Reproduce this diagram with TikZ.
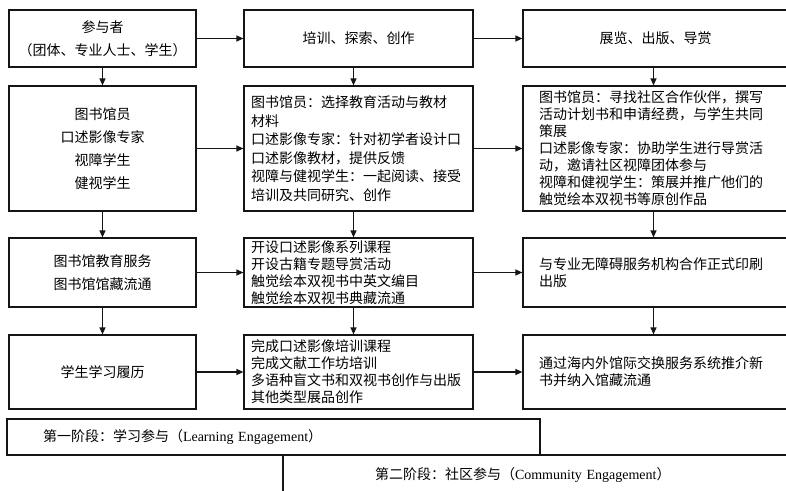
\documentclass[tikz,border=0pt]{standalone}
\usepackage{fontspec}
\setmainfont{Liberation Serif}
\newfontfamily\cjk{Noto Sans CJK SC}
\usetikzlibrary{arrows.meta}
\definecolor{ln}{HTML}{151515}

\begin{document}
\begin{tikzpicture}[x=1pt,y=-1pt,
  box/.style={draw=ln,line width=1.2pt,inner sep=0pt,font=\cjk\fontsize{14}{17}\selectfont},
  lbox/.style={box,minimum width=187pt,align=center,font=\cjk\fontsize{14}{23}\selectfont},
  mbox/.style={box,minimum width=229pt,text width=215pt,inner xsep=7pt,align=left},
  rbox/.style={box,minimum width=265pt,text width=233pt,inner xsep=16pt,align=left},
  arr/.style={draw=ln,line width=1.2pt,-{Triangle[length=7pt,width=6pt]}}]
\useasboundingbox (0,0) rectangle (786,490);

\node[lbox,minimum height=57pt] (l1) at (102.5,38.5) {参与者\\（团体、专业人士、学生）};
\node[lbox,minimum height=125pt] (l2) at (102.5,148.5) {图书馆员\\口述影像专家\\视障学生\\健视学生};
\node[lbox,minimum height=69pt] (l3) at (102.5,272.5) {图书馆教育服务\\图书馆馆藏流通};
\node[lbox,minimum height=74pt] (l4) at (102.5,372) {学生学习履历};

\node[mbox,minimum height=57pt,align=center] (m1) at (358.5,38.5) {培训、探索、创作};
\node[mbox,minimum height=125pt,font=\cjk\fontsize{14}{18.5}\selectfont] (m2) at (358.5,148.5)
  {图书馆员：选择教育活动与教材\\材料\\口述影像专家：针对初学者设计口\\口述影像教材，提供反馈\\视障与健视学生：一起阅读、接受\\培训及共同研究、创作};
\node[mbox,minimum height=69pt] (m3) at (358.5,272.5)
  {开设口述影像系列课程\\开设古籍专题导赏活动\\触觉绘本双视书中英文编目\\触觉绘本双视书典藏流通};
\node[mbox,minimum height=74pt] (m4) at (358.5,372)
  {完成口述影像培训课程\\完成文献工作坊培训\\多语种盲文书和双视书创作与出版\\其他类型展品创作};

\node[rbox,minimum height=57pt,align=center] (r1) at (655.5,38.5) {展览、出版、导赏};
\node[rbox,minimum height=125pt] (r2) at (655.5,148.5)
  {图书馆员：寻找社区合作伙伴，撰写\\活动计划书和申请经费，与学生共同\\策展\\口述影像专家：协助学生进行导赏活\\动，邀请社区视障团体参与\\视障和健视学生：策展并推广他们的\\触觉绘本双视书等原创作品};
\node[rbox,minimum height=69pt] (r3) at (655.5,272.5) {与专业无障碍服务机构合作正式印刷\\出版};
\node[rbox,minimum height=74pt] (r4) at (655.5,372) {通过海内外馆际交换服务系统推介新\\书并纳入馆藏流通};

\node[box,minimum width=517pt,minimum height=40pt,text width=333pt,inner xsep=92pt,align=left,font=\fontsize{14}{17}\selectfont] (s2) at (541.5,475)
  {{\cjk 第二阶段：社区参与（}Community Engagement{\cjk ）}};
\node[box,fill=white,minimum width=533pt,minimum height=36pt,text width=461pt,inner xsep=36pt,align=left,font=\fontsize{14}{17}\selectfont] (s1) at (273.5,437)
  {{\cjk 第一阶段：学习参与（}Learning Engagement{\cjk ）}};

\draw[arr] (l1) -- (l2);
\draw[arr] (l2) -- (l3);
\draw[arr] (l3) -- (l4);
\draw[arr] ([xshift=-5pt]m1.south) -- ([xshift=-5pt]m2.north);
\draw[arr] ([xshift=-5pt]m2.south) -- ([xshift=-5pt]m3.north);
\draw[arr] ([xshift=-5pt]m3.south) -- ([xshift=-5pt]m4.north);
\draw[arr] ([xshift=-2pt]r1.south) -- ([xshift=-2pt]r2.north);
\draw[arr] ([xshift=-2pt]r2.south) -- ([xshift=-2pt]r3.north);
\draw[arr] ([xshift=-2pt]r3.south) -- ([xshift=-2pt]r4.north);
\draw[arr] (l1) -- (m1);
\draw[arr] (l2) -- (m2);
\draw[arr] (l3) -- (m3);
\draw[arr] (l4) -- (m4);
\draw[arr] (m1) -- (r1);
\draw[arr] (m2) -- (r2);
\draw[arr] (m3) -- (r3);
\draw[arr] (m4) -- (r4);
\end{tikzpicture}
\end{document}
